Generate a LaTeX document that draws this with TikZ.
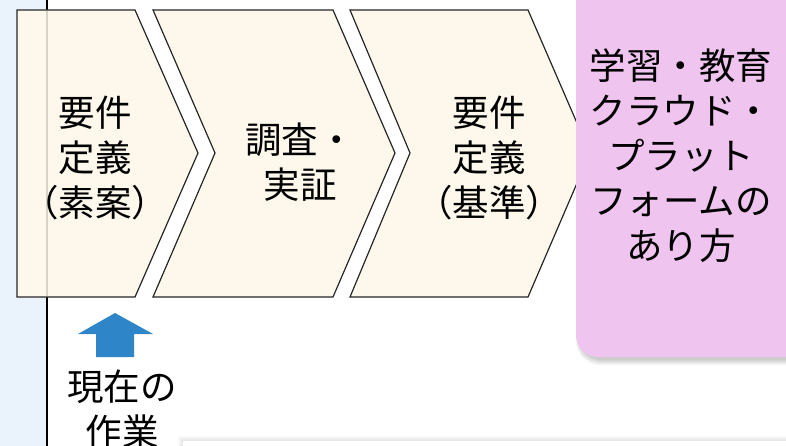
\documentclass[tikz,border=0pt]{standalone}
\usepackage{fontspec}
\newfontfamily\jp{Noto Sans CJK JP}
\definecolor{stripblue}{HTML}{EAF2FB}
\definecolor{cream}{HTML}{FDF8EB}
\definecolor{pinkbox}{HTML}{EFC5EF}
\definecolor{arrowblue}{HTML}{2E86C9}
\tikzset{
  chev/.style={fill=cream, draw=black!85, line width=1.2pt, line join=miter},
  lbl/.style={font=\jp\fontsize{36.5}{45}\selectfont, align=center, inner sep=0pt, text=black},
}
\begin{document}
\begin{tikzpicture}[x=1pt,y=-1pt]
\useasboundingbox (0,0) rectangle (786,446);
% left strip and vertical line
\fill[stripblue] (0,0) rectangle (47,446);
\draw[line width=1.5pt] (47,0) -- (47,446);
% chevrons
\draw[chev] (17,10) -- (135,10) -- (198,153) -- (135,297) -- (17,297) -- cycle;
\draw[black, opacity=0.15, line width=1.5pt] (47,11) -- (47,296);
\draw[chev] (153,10) -- (333,10) -- (395,153) -- (333,297) -- (153,297) -- (215,153) -- cycle;
\draw[chev] (350,10) -- (528,10) -- (590,153) -- (528,297) -- (350,297) -- (410,153) -- cycle;
% pink box with shadow
\foreach \i in {1,...,6}{
  \fill[black, opacity=0.035, rounded corners=24] (576+3-\i*0.5,-30) rectangle (830,357+2+\i);
}
\fill[pinkbox, rounded corners=22] (576,-30) rectangle (830,357);
% bottom box with shadow
\foreach \i in {1,...,5}{
  \fill[black, opacity=0.02] (183-\i,441-\i) rectangle (800,460);
}
\fill[white] (183,441) rectangle (800,460);
% blue arrow
\fill[arrowblue] (115,313) -- (153,334) -- (134,334) -- (134,357) -- (96,357) -- (96,334) -- (78,334) -- cycle;
% labels
\node[lbl] (t1) at (95,158) {要件\\定義\\（素案）};
\node[lbl] (t2) at (300,162) {調査・\\実証};
\node[lbl] (t3) at (489,158) {要件\\定義\\（基準）};
\node[lbl] (t4) at (681,156) {学習・教育\\クラウド・\\プラット\\フォームの\\あり方};
\node[lbl] (t5) at (122,409) {現在の\\作業};
\end{tikzpicture}
\end{document}
